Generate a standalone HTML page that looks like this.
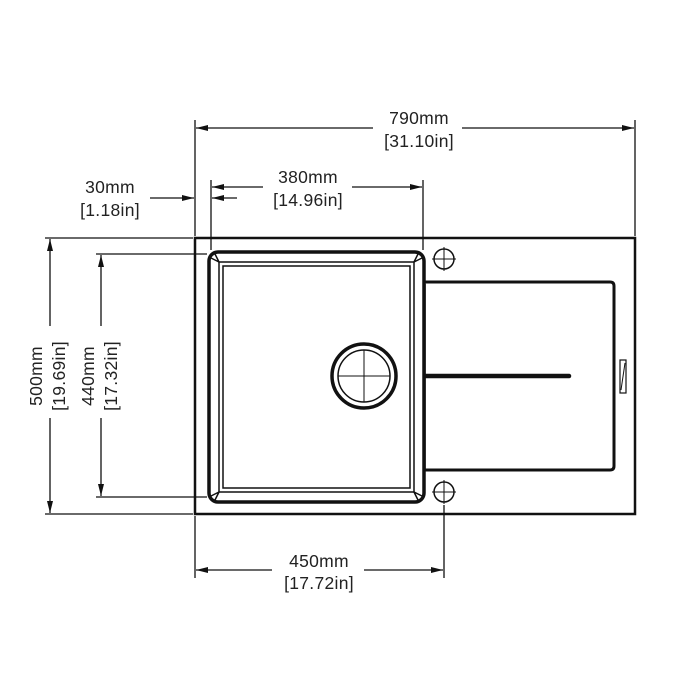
<!DOCTYPE html>
<html><head><meta charset="utf-8"><style>
html,body{margin:0;padding:0;background:#fff;}
svg{display:block;}
text{font-family:"Liberation Sans",sans-serif;font-size:17.5px;fill:#222;letter-spacing:0.3px;}
</style></head><body>
<svg width="700" height="700" viewBox="0 0 700 700" xmlns="http://www.w3.org/2000/svg">
<defs>
<marker id="a" viewBox="0 0 12 6" refX="12" refY="3" markerWidth="12" markerHeight="6" orient="auto" markerUnits="userSpaceOnUse"><path d="M0,0 L12,3 L0,6 z" fill="#111"/></marker>
</defs>
<g stroke="#111" fill="none">
<rect x="195" y="238" width="440" height="276" stroke-width="2.5"/>
<rect x="209" y="252" width="215" height="250" rx="9" stroke-width="3.5"/>
<rect x="219" y="262" width="195" height="230" stroke-width="1.5"/>
<rect x="223" y="266" width="187" height="222" stroke-width="1.5"/>
<path d="M211,258 L219,262 M215,254 L219,262 M422,258 L414,262 M418,254 L414,262 M211,496 L219,492 M215,500 L219,492 M422,496 L414,492 M418,500 L414,492" stroke-width="1.5"/>
<circle cx="364" cy="376" r="32" stroke-width="3.5"/>
<circle cx="364" cy="376" r="26" stroke-width="1.5"/>
<path d="M338,376 H390 M364,350 V402" stroke-width="1"/>
<path d="M424,282 H610 Q614,282 614,286 V466 Q614,470 610,470 H424" stroke-width="3"/>
<line x1="425" y1="284" x2="425" y2="470" stroke-width="1.5"/>
<line x1="426" y1="376" x2="569" y2="376" stroke-width="4.5" stroke-linecap="round"/>
<rect x="620" y="360" width="6" height="33" stroke-width="1.2"/>
<line x1="621" y1="390" x2="625" y2="363" stroke-width="1"/>
<circle cx="444" cy="259" r="10" stroke-width="1.5"/>
<path d="M432,259 H456 M444,247 V271" stroke-width="1"/>
<circle cx="444" cy="492" r="10" stroke-width="1.5"/>
<path d="M432,492 H456 M444,480 V504" stroke-width="1"/>
<g stroke-width="1.3">
<line x1="195" y1="120" x2="195" y2="236"/>
<line x1="635" y1="120" x2="635" y2="236"/>
<line x1="373" y1="128" x2="196" y2="128" marker-end="url(#a)"/>
<line x1="462" y1="128" x2="634" y2="128" marker-end="url(#a)"/>
<line x1="211" y1="180" x2="211" y2="250"/>
<line x1="423" y1="180" x2="423" y2="250"/>
<line x1="263" y1="187" x2="212" y2="187" marker-end="url(#a)"/>
<line x1="352" y1="187" x2="422" y2="187" marker-end="url(#a)"/>
<line x1="150" y1="198" x2="194" y2="198" marker-end="url(#a)"/>
<line x1="237" y1="198" x2="212" y2="198" marker-end="url(#a)"/>
<line x1="45" y1="238" x2="193" y2="238"/>
<line x1="45" y1="514" x2="193" y2="514"/>
<line x1="50" y1="326" x2="50" y2="239" marker-end="url(#a)"/>
<line x1="50" y1="418" x2="50" y2="513" marker-end="url(#a)"/>
<line x1="96" y1="254" x2="207" y2="254"/>
<line x1="96" y1="497" x2="207" y2="497"/>
<line x1="101" y1="326" x2="101" y2="255" marker-end="url(#a)"/>
<line x1="101" y1="418" x2="101" y2="496" marker-end="url(#a)"/>
<line x1="195" y1="516" x2="195" y2="578"/>
<line x1="444" y1="505" x2="444" y2="578"/>
<line x1="272" y1="570" x2="196" y2="570" marker-end="url(#a)"/>
<line x1="364" y1="570" x2="443" y2="570" marker-end="url(#a)"/>
</g>
</g>
<g text-anchor="middle">
<text x="419" y="124">790mm</text>
<text x="419" y="147">[31.10in]</text>
<text x="308" y="183">380mm</text>
<text x="308" y="206">[14.96in]</text>
<text x="110" y="193">30mm</text>
<text x="110" y="216">[1.18in]</text>
<text x="319" y="567">450mm</text>
<text x="319" y="589">[17.72in]</text>
<text transform="translate(42,376) rotate(-90)">500mm</text>
<text transform="translate(65,376) rotate(-90)">[19.69in]</text>
<text transform="translate(94,376) rotate(-90)">440mm</text>
<text transform="translate(117,376) rotate(-90)">[17.32in]</text>
</g>
</svg>
</body></html>
